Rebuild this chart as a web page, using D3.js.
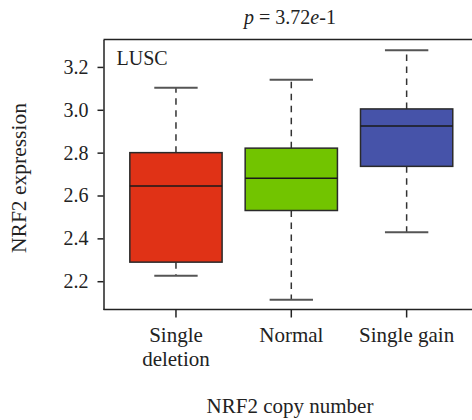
<!DOCTYPE html>
<html>
<head>
<meta charset="utf-8">
<script src="https://cdn.jsdelivr.net/npm/d3@7"></script>
<style>
  html, body { margin: 0; padding: 0; background: #fff; }
  svg { display: block; }
  text { font-family: "Liberation Serif", "DejaVu Serif", serif; fill: #222; }
</style>
</head>
<body>
<svg id="chart" width="472" height="420"></svg>
<script>
// Copy-number groups and their box statistics
const categories = ["Single deletion", "Normal", "Single gain"];
const lowerWhisker = [2.225, 2.113, 2.428];
const q1 = [2.289, 2.530, 2.736];
const median = [2.644, 2.680, 2.924];
const q3 = [2.800, 2.821, 3.004];
const upperWhisker = [3.103, 3.140, 3.278];
const boxColors = ["#e03216", "#72c400", "#4653a9"];
const yTicks = [2.2, 2.4, 2.6, 2.8, 3.0, 3.2];
const xTickLines = [["Single", "deletion"], ["Normal"], ["Single gain"]];

const svg = d3.select("#chart");
const W = 472;
const plot = { left: 103.5, top: 39.5, bottom: 309.5 };

const x = d3.scaleBand()
  .domain(categories)
  .range([118.3, 464.3])
  .paddingInner(0.2)
  .paddingOuter(0.1);

const y = d3.scaleLinear()
  .domain([2.068, 3.328])
  .range([plot.bottom, plot.top]);

const boxes = categories.map((c, i) => ({
  cat: c, lo: lowerWhisker[i], q1: q1[i], med: median[i], q3: q3[i], hi: upperWhisker[i], color: boxColors[i]
}));

// Frame: top border
svg.append("line")
  .attr("x1", plot.left).attr("x2", W)
  .attr("y1", plot.top).attr("y2", plot.top)
  .attr("stroke", "#222").attr("stroke-width", 1.5);

// Left axis
const yAxis = svg.append("g")
  .attr("transform", `translate(${plot.left},0)`)
  .call(d3.axisLeft(y).tickValues(yTicks).tickFormat(d3.format(".1f")).tickSize(6).tickSizeOuter(0).tickPadding(9));
yAxis.select(".domain").attr("stroke", "#222").attr("stroke-width", 1.5);
yAxis.selectAll(".tick line").attr("stroke", "#222").attr("stroke-width", 1.5);
yAxis.selectAll(".tick text")
  .attr("font-size", 20).attr("fill", "#222")
  .style("font-family", '"Liberation Serif", serif');

// Bottom axis
const xAxis = svg.append("g")
  .attr("transform", `translate(0,${plot.bottom})`)
  .call(d3.axisBottom(x).tickSize(8).tickSizeOuter(0).tickFormat(""));
xAxis.select(".domain").attr("d", `M${plot.left},0H${W}`).attr("stroke", "#222").attr("stroke-width", 1.5);
xAxis.selectAll(".tick line").attr("stroke", "#222").attr("stroke-width", 1.5);
xAxis.selectAll(".tick").each(function(d, i) {
  const t = d3.select(this).append("text")
    .attr("text-anchor", "middle")
    .attr("font-size", 21)
    .attr("fill", "#222")
    .style("font-family", '"Liberation Serif", serif');
  xTickLines[i].forEach((line, j) => {
    t.append("tspan").attr("x", 0).attr("y", 32 + j * 24).text(line);
  });
});

// Whiskers (dashed) and caps
const g = svg.append("g");
const cx = d => x(d.cat) + x.bandwidth() / 2;
const capHalf = x.bandwidth() * 0.235;

g.selectAll(".whisker-up").data(boxes).join("line")
  .attr("x1", cx).attr("x2", cx)
  .attr("y1", d => y(d.q3)).attr("y2", d => y(d.hi))
  .attr("stroke", "#333").attr("stroke-width", 1.5).attr("stroke-dasharray", "6.5,5.5");
g.selectAll(".whisker-down").data(boxes).join("line")
  .attr("x1", cx).attr("x2", cx)
  .attr("y1", d => y(d.q1)).attr("y2", d => y(d.lo))
  .attr("stroke", "#333").attr("stroke-width", 1.5).attr("stroke-dasharray", "6.5,5.5");
g.selectAll(".cap-hi").data(boxes).join("line")
  .attr("x1", d => cx(d) - capHalf).attr("x2", d => cx(d) + capHalf)
  .attr("y1", d => y(d.hi)).attr("y2", d => y(d.hi))
  .attr("stroke", "#555").attr("stroke-width", 2);
g.selectAll(".cap-lo").data(boxes).join("line")
  .attr("x1", d => cx(d) - capHalf).attr("x2", d => cx(d) + capHalf)
  .attr("y1", d => y(d.lo)).attr("y2", d => y(d.lo))
  .attr("stroke", "#555").attr("stroke-width", 2);

// Boxes and medians
g.selectAll(".box").data(boxes).join("rect")
  .attr("x", d => x(d.cat)).attr("width", x.bandwidth())
  .attr("y", d => y(d.q3)).attr("height", d => y(d.q1) - y(d.q3))
  .attr("fill", d => d.color).attr("stroke", "#2a2a2a").attr("stroke-width", 1.5);
g.selectAll(".median").data(boxes).join("line")
  .attr("x1", d => x(d.cat)).attr("x2", d => x(d.cat) + x.bandwidth())
  .attr("y1", d => y(d.med)).attr("y2", d => y(d.med))
  .attr("stroke", "#1a1a1a").attr("stroke-width", 1.5);

// Panel tag
svg.append("text")
  .attr("x", 116.5).attr("y", 65)
  .attr("font-size", 20)
  .text("LUSC");

// Title with italic p and e
const title = svg.append("text")
  .attr("x", 290).attr("y", 24)
  .attr("text-anchor", "middle")
  .attr("font-size", 20);
title.append("tspan").attr("font-style", "italic").text("p");
title.append("tspan").text(" = 3.72");
title.append("tspan").attr("font-style", "italic").text("e");
title.append("tspan").text("-1");

// Axis titles
svg.append("text")
  .attr("x", 290).attr("y", 413)
  .attr("text-anchor", "middle")
  .attr("font-size", 21)
  .text("NRF2 copy number");

svg.append("text")
  .attr("transform", `translate(26,178) rotate(-90)`)
  .attr("text-anchor", "middle")
  .attr("font-size", 21.5)
  .text("NRF2 expression");
</script>
</body>
</html>
